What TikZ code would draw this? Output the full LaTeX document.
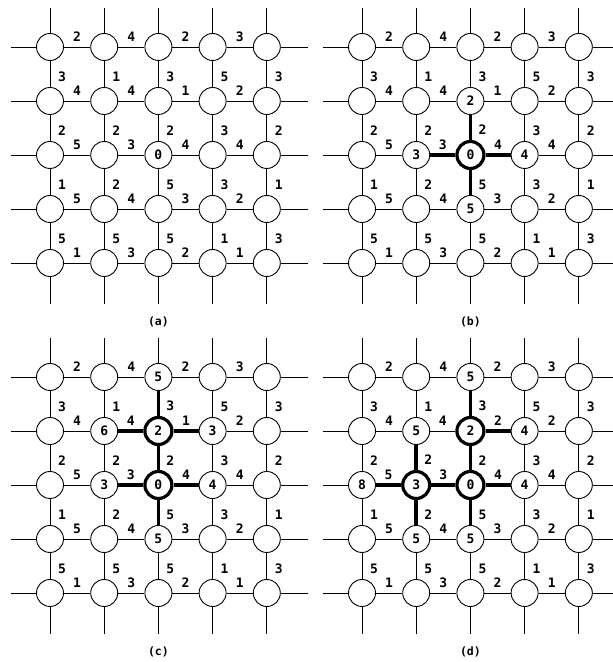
\documentclass[tikz,border=0pt]{standalone}
\usepackage{fontspec}
\newfontfamily\pixfont{DejaVu Sans Mono}
\tikzset{
  cell/.style={circle, draw, fill=white, line width=0.9pt, minimum size=27pt,
    inner sep=0pt, font=\pixfont\bfseries\fontsize{13}{13}\selectfont},
  hub/.style={line width=3.2pt},
  wire/.style={line width=0.9pt},
  route/.style={line width=3.6pt},
  wlabel/.style={inner sep=0pt, font=\pixfont\bfseries\fontsize{13}{13}\selectfont},
  caption/.style={font=\pixfont\bfseries\fontsize{11.5}{11.5}\selectfont},
  % settled nodes get a thick ring
  b-2-2/.style={hub},
  c-1-2/.style={hub}, c-2-2/.style={hub},
  d-1-2/.style={hub}, d-2-1/.style={hub}, d-2-2/.style={hub}
}
% distances written inside the circles
\newcommand{\setdist}[2]{%
  \foreach \k/\v in {#2} {\expandafter\xdef\csname nv-#1-\k\endcsname{\v}}}
% one 5x5 grid: tag, shift x, shift y, caption, weight of edge 1-2 -- 1-3
\newcommand{\lattice}[5]{%
  \begin{scope}[shift={(#2,#3)}]
    % nodes
    \foreach \row in {0,...,4}
      \foreach \col in {0,...,4}
        \node[cell, #1-\row-\col/.try] (#1-\row-\col) at (\col,\row)
          {\csname nv-#1-\row-\col\endcsname};
    % horizontal edges
    \foreach \row/\col/\w [evaluate=\col as \nxt using int(\col+1)] in
      {0/0/2, 0/1/4, 0/2/2, 0/3/3,
       1/0/4, 1/1/4, 1/2/#5, 1/3/2,
       2/0/5, 2/1/3, 2/2/4, 2/3/4,
       3/0/5, 3/1/4, 3/2/3, 3/3/2,
       4/0/1, 4/1/3, 4/2/2, 4/3/1}
      \draw[wire] (#1-\row-\col) -- node[wlabel, yshift=10.5pt] {\w} (#1-\row-\nxt);
    % vertical edges
    \foreach \row/\col/\w [evaluate=\row as \nxt using int(\row+1)] in
      {0/0/3, 0/1/1, 0/2/3, 0/3/5, 0/4/3,
       1/0/2, 1/1/2, 1/2/2, 1/3/3, 1/4/2,
       2/0/1, 2/1/2, 2/2/5, 2/3/3, 2/4/1,
       3/0/5, 3/1/5, 3/2/5, 3/3/1, 3/4/3}
      \draw[wire] (#1-\row-\col) -- node[wlabel, pos=0.6, xshift=12pt] {\w} (#1-\nxt-\col);
    % open ends of the grid
    \foreach \i in {0,...,4} {
      \coordinate (#1-top-\i) at (\i,-0.72);
      \coordinate (#1-bot-\i) at (\i,4.76);
      \coordinate (#1-lft-\i) at (-0.72,\i);
      \coordinate (#1-rgt-\i) at (4.76,\i);
      \draw[wire] (#1-top-\i) -- (#1-0-\i);
      \draw[wire] (#1-4-\i) -- (#1-bot-\i);
      \draw[wire] (#1-lft-\i) -- (#1-\i-0);
      \draw[wire] (#1-\i-4) -- (#1-rgt-\i);
    }
    \node[caption] (#1-cap) at (2,5.09) {#4};
  \end{scope}}

\begin{document}
\begin{tikzpicture}[x=54.2pt, y=-54pt]
  \useasboundingbox (0,0) rectangle (11.292,12.259);

  \setdist{a}{2-2/0}
  \setdist{b}{1-2/2, 2-1/3, 2-2/0, 2-3/4, 3-2/5}
  \setdist{c}{0-2/5, 1-1/6, 1-2/2, 1-3/3, 2-1/3, 2-2/0, 2-3/4, 3-2/5}
  \setdist{d}{0-2/5, 1-1/5, 1-2/2, 1-3/4, 2-0/8, 2-1/3, 2-2/0, 2-3/4, 3-1/5, 3-2/5}

  \lattice{a}{0.9225}{0.870}{(a)}{1}
  \lattice{b}{6.679}{0.870}{(b)}{1}
  \lattice{c}{0.9225}{6.981}{(c)}{1}
  \lattice{d}{6.679}{6.981}{(d)}{2}

  % shortest-path tree so far
  \foreach \u/\v in {1-2/2-2, 2-1/2-2, 2-2/2-3, 2-2/3-2}
    \draw[route] (b-\u) -- (b-\v);
  \foreach \u/\v in {0-2/1-2, 1-1/1-2, 1-2/1-3, 1-2/2-2, 2-1/2-2, 2-2/2-3, 2-2/3-2}
    \draw[route] (c-\u) -- (c-\v);
  \foreach \u/\v in {0-2/1-2, 1-2/1-3, 1-2/2-2, 1-1/2-1, 2-0/2-1, 2-1/2-2,
                     2-1/3-1, 2-2/2-3, 2-2/3-2}
    \draw[route] (d-\u) -- (d-\v);
\end{tikzpicture}
\end{document}
